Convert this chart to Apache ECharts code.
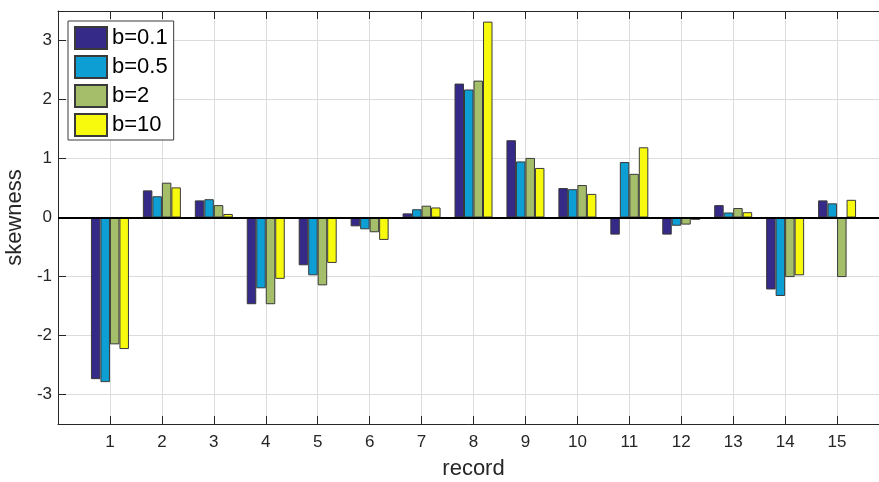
<!DOCTYPE html>
<html>
<head>
<meta charset="utf-8">
<script src="https://cdn.jsdelivr.net/npm/echarts@6/dist/echarts.min.js"></script>
<style>html,body{margin:0;padding:0;background:#fff}#c{width:879px;height:482px}</style>
</head>
<body>
<div id="c"></div>
<script>
var records = [1,2,3,4,5,6,7,8,9,10,11,12,13,14,15];
var seriesNames = ['b=0.1','b=0.5','b=2','b=10'];
var b01 = [-2.74, 0.46, 0.29, -1.47, -0.81, -0.15, 0.07, 2.27, 1.31, 0.50, -0.29, -0.29, 0.21, -1.22, 0.29];
var b05 = [-2.79, 0.36, 0.31, -1.20, -0.98, -0.20, 0.14, 2.17, 0.95, 0.48, 0.94, -0.14, 0.085, -1.33, 0.24];
var b2  = [-2.15, 0.59, 0.21, -1.47, -1.15, -0.25, 0.20, 2.32, 1.01, 0.55, 0.74, -0.12, 0.16, -1.01, -1.01];
var b10 = [-2.23, 0.51, 0.06, -1.04, -0.77, -0.38, 0.17, 3.32, 0.84, 0.40, 1.19, -0.04, 0.09, -0.98, 0.30];
var yTicks = [-3,-2,-1,0,1,2,3];

var colors = ['#352a87','#0d9fd4','#a5be6a','#f8fa0d'];
var allData = [b01,b05,b2,b10];
var font = 'Liberation Sans, Arial, Helvetica, sans-serif';
var axisCol = '#262626';

var chart = echarts.init(document.getElementById('c'), null, {renderer:'canvas'});
var series = allData.map(function(arr, i){
  var s = {
    name: seriesNames[i],
    type: 'bar',
    xAxisIndex: 0,
    yAxisIndex: 0,
    barWidth: 9.5,
    barGap: '0%',
    itemStyle: {color: colors[i], borderColor: '#3a3a3a', borderWidth: 1},
    emphasis: {disabled: true},
    data: arr.map(function(v, k){ return [records[k], v]; })
  };
  if (i === 3) {
    s.markLine = {
      silent: true, symbol: ['none','none'], label: {show:false},
      lineStyle: {color:'#000', width:2, type:'solid'},
      z: 10,
      data: [{yAxis: 0}]
    };
  }
  return s;
});

chart.setOption({
  animation: false,
  textStyle: {fontFamily: font},
  grid: {left: 58, top: 11, width: 831, height: 413, containLabel: false, outerBoundsMode: 'none'},
  legend: {
    orient: 'vertical', left: 68, top: 21,
    padding: [5, 6, 3, 6], itemGap: 5,
    itemWidth: 32, itemHeight: 22,
    backgroundColor: '#fff', borderColor: '#3a3a3a', borderWidth: 1,
    icon: 'rect',
    textStyle: {fontSize: 22, color: '#000', fontFamily: font},
    data: seriesNames
  },
  xAxis: [{
    type: 'value', min: 0, max: 16, interval: 1,
    position: 'bottom',
    name: 'record', nameLocation: 'middle', nameGap: 34,
    nameTextStyle: {fontSize: 22, color: axisCol, fontFamily: font},
    axisLine: {show: true, onZero: false, lineStyle: {color: axisCol, width: 1}},
    axisTick: {show: true, inside: true, length: 8, lineStyle: {color: axisCol}},
    axisLabel: {fontSize: 17, color: axisCol, margin: 10, fontFamily: font,
      formatter: function(v){ return (v >= 1 && v <= 15) ? String(v) : ''; }},
    splitLine: {show: true, lineStyle: {color: '#dcdcdc', width: 1}}
  }, {
    type: 'value', min: 0, max: 16, interval: 1,
    position: 'top',
    axisLine: {show: true, onZero: false, lineStyle: {color: axisCol, width: 1}},
    axisTick: {show: true, inside: true, length: 8, lineStyle: {color: axisCol}},
    axisLabel: {show: false},
    splitLine: {show: false}
  }],
  yAxis: [{
    type: 'value', min: -3.5, max: 3.5, splitNumber: 7,
    name: 'skewness', nameLocation: 'middle', nameGap: 29, nameRotate: 90,
    nameTextStyle: {fontSize: 22, color: axisCol, fontFamily: font},
    axisLine: {show: true, onZero: false, lineStyle: {color: axisCol, width: 1}},
    axisTick: {show: true, inside: true, length: 8, lineStyle: {color: axisCol}},
    axisLabel: {fontSize: 17, color: axisCol, margin: 6, fontFamily: font,
      showMinLabel: false, showMaxLabel: false,
      formatter: function(v){ return yTicks.indexOf(v) >= 0 ? String(v) : ''; }},
    splitLine: {show: true, lineStyle: {color: '#dcdcdc', width: 1}}
  }],
  series: series
});
</script>
</body>
</html>
